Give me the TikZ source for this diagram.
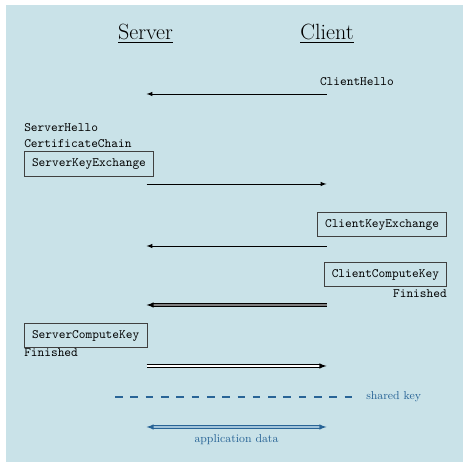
\documentclass[tikz,border=0pt]{standalone}
\usepackage{amsmath, amssymb}
\usepackage{tikz}
\definecolor{bgblue}{RGB}{201,226,232}
\definecolor{keyblue}{RGB}{40,100,150}
\definecolor{datablue}{RGB}{160,195,218}
\tikzset{msgbox/.style={draw=black!75, semithick, inner xsep=6pt, minimum height=19pt, font=\ttfamily},
         msg/.style={inner sep=0pt, font=\ttfamily},
         flow/.style={semithick, -latex}}

\begin{document}
\begin{tikzpicture}[x=2.754mm, y=-2.754mm]
\useasboundingbox (0,0) rectangle (46.3,46.2);
\fill [bgblue] (0.6,0.5) rectangle (46.3,46.2);
% the two parties
\node (server) at (14.55,3.4) {\LARGE\underline{Server}};
\node (client) at (32.7,3.4) {\LARGE\underline{Client}};
% ends of the messages
\coordinate (s1) at (14.65,9.4);  \coordinate (c1) at (32.65,9.4);
\coordinate (s2) at (14.65,18.4); \coordinate (c2) at (32.65,18.4);
\coordinate (s3) at (14.65,24.6); \coordinate (c3) at (32.65,24.6);
\coordinate (s4) at (14.65,30.5); \coordinate (c4) at (32.65,30.5);
\coordinate (s5) at (14.65,36.6); \coordinate (c5) at (32.65,36.6);
\coordinate (s6) at (14.65,42.7); \coordinate (c6) at (32.65,42.7);
\coordinate (k1) at (11.5,39.7);  \coordinate (k2) at (35.2,39.7);
% messages
\node [msg, left] (chello) at (39.4,8.2) {ClientHello};
\node [msg, right] (shello) at (2.4,12.8) {ServerHello};
\node [msg, right] (chain) at (2.4,14.4) {CertificateChain};
\node [msgbox, right] (skex) at (2.4,16.4) {ServerKeyExchange};
\node [msgbox, left] (ckex) at (44.7,22.45) {ClientKeyExchange};
\node [msgbox, left] (ccomp) at (44.7,27.45) {ClientComputeKey};
\node [msg, left] (cfin) at (44.7,29.4) {Finished};
\node [msgbox, right] (scomp) at (2.4,33.55) {ServerComputeKey};
\node [msg, right] (sfin) at (2.4,35.3) {Finished};
% arrows
\draw [flow] (c1) -- (s1);
\draw [flow] (s2) -- (c2);
\draw [flow] (c3) -- (s3);
\draw [flow, double=gray, double distance=1.2pt] (c4) -- (s4);
\draw [flow, double, double distance=1.2pt] (s5) -- (c5);
\draw [draw=keyblue, line width=0.9pt, dash pattern=on 6pt off 6pt] (k1) -- (k2);
\node [right, text=keyblue, font=\small, inner xsep=0pt] (shared) at (36.6,39.7) {shared key};
\draw [latex-latex, semithick, draw=keyblue, double=datablue, double distance=1.2pt] (s6) -- (c6);
\node [text=keyblue, font=\small] (appdata) at (23.65,44.0) {application data};
\end{tikzpicture}
\end{document}
